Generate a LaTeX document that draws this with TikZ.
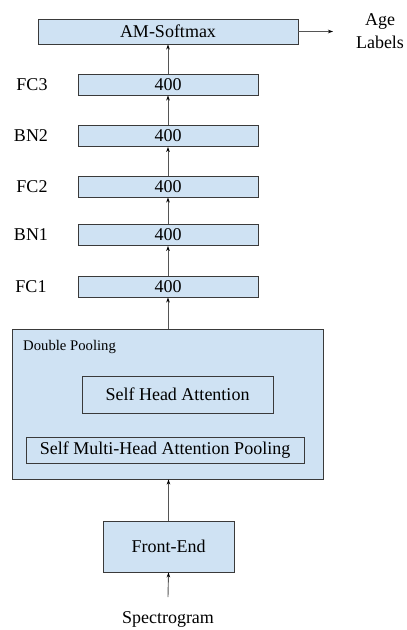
\documentclass[tikz,border=0pt]{standalone}
\usepackage{fontspec}
\setmainfont{Liberation Serif}
\usetikzlibrary{arrows.meta}
\definecolor{boxfill}{HTML}{CFE2F3}
\definecolor{boxline}{HTML}{3A3A3A}
\definecolor{wire}{HTML}{555555}
\begin{document}
\begin{tikzpicture}[x=1pt,y=-1pt,
  layer/.style={draw=boxline,fill=boxfill,line width=0.9pt,minimum width=180pt,minimum height=21pt,inner sep=0pt,font=\fontsize{18}{23}\selectfont},
  plain/.style={draw=boxline,line width=0.9pt,inner sep=0pt,font=\fontsize{18}{23}\selectfont},
  side/.style={font=\fontsize{18}{23}\selectfont},
  flow/.style={draw=wire,line width=0.9pt,-{Stealth[length=5pt,width=3.5pt,black]}}]
\useasboundingbox (0,0) rectangle (407,630);
% output layer
\node[layer,minimum width=260pt,minimum height=25pt] (am) at (168,31.5) {AM-Softmax};
\node[side,align=center,inner sep=0pt] (age) at (380,31) {Age\\Labels};
\coordinate (out) at (333,31.5);
% fully connected stack
\node[layer] (fc3) at (168,84.5) {400};
\node[layer] (bn2) at (168,136) {400};
\node[layer] (fc2) at (168,186.5) {400};
\node[layer] (bn1) at (168,235) {400};
\node[layer] (fc1) at (168,286.5) {400};
\node[side,anchor=center] (lfc3) at (32,84.5) {FC3};
\node[side,anchor=center] (lbn2) at (31,136) {BN2};
\node[side,anchor=center] (lfc2) at (32,186.5) {FC2};
\node[side,anchor=center] (lbn1) at (31,235) {BN1};
\node[side,anchor=center] (lfc1) at (31,286.5) {FC1};
% pooling block
\node[layer,minimum width=311pt,minimum height=150pt] (dp) at (167.5,404) {};
\node[anchor=west,inner sep=0pt,font=\fontsize{14.7}{17}\selectfont] (dpl) at (23,347) {Double Pooling};
\node[plain,minimum width=191pt,minimum height=37pt] (sha) at (177.5,394.5) {Self Head Attention};
\node[plain,minimum width=278pt,minimum height=26pt] (smh) at (165,450) {Self Multi-Head Attention Pooling};
% front end and input
\node[layer,minimum width=131pt,minimum height=51pt] (fe) at (168.5,546.5) {Front-End};
\node[side] (spec) at (168,619) {Spectrogram};
\coordinate (in) at (168,597);
% connectors
\draw[flow] (in) -- (fe.south);
\draw[flow] (fe.north) -- (dp.south -| fe.north);
\draw[flow] (dp.north -| fc1.south) -- (fc1.south);
\draw[flow] (fc1.north) -- (bn1.south);
\draw[flow] (bn1.north) -- (fc2.south);
\draw[flow] (fc2.north) -- (bn2.south);
\draw[flow] (bn2.north) -- (fc3.south);
\draw[flow] (fc3.north) -- (am.south);
\draw[flow] (am.east) -- (out);
\end{tikzpicture}
\end{document}
